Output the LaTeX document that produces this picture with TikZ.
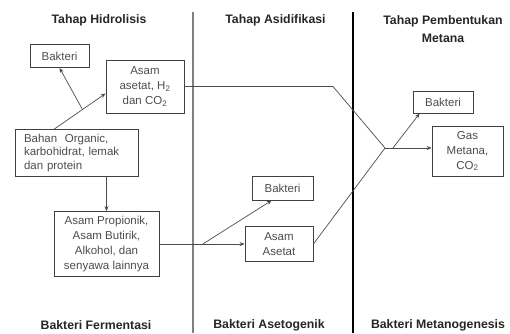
\documentclass[tikz,border=0pt]{standalone}
\usepackage{fontspec}
\setmainfont{Liberation Sans}
\usetikzlibrary{arrows.meta}

\begin{document}
\begin{tikzpicture}[x=1pt, y=-1pt,
    every node/.style={font=\fontsize{11.5}{15}\selectfont},
    box/.style={draw=black!75, line width=0.8pt, text=black!70, align=center, inner sep=2pt},
    headline/.style={font=\fontsize{12.3}{18}\selectfont\bfseries, text=black!85, align=center},
    link/.style={draw=black!70, line width=0.7pt},
    arr/.style={link, -{Stealth[length=5pt, width=4pt]}}]
  \useasboundingbox (0,0) rectangle (510,333);

  % garis pemisah tahap
  \draw[black!50, line width=2pt] (193,12) -- (193,333);
  \draw[black, line width=1.2pt] (353,12) -- (353,333);

  \node[headline] (top1) at (99,20) {Tahap Hidrolisis};
  \node[headline] (top2) at (275.5,20) {Tahap Asidifikasi};
  \node[headline] (top3) at (443,29) {Tahap Pembentukan\\Metana};

  \foreach \x/\t [count=\i] in {96/Bakteri Fermentasi, 269/Bakteri Asetogenik, 438/Bakteri Metanogenesis}
    \node[headline] (bot\i) at (\x,325) {\t};

  \node[box, minimum width=59pt, minimum height=23pt] (bak1) at (59.5,56) {Bakteri};
  \node[box, minimum width=78pt, minimum height=53pt] (asam1) at (145,86.5) {Asam\\asetat, H\textsubscript{2}\\dan CO\textsubscript{2}};
  \node[box, minimum height=47pt, text width=105pt, inner xsep=9pt, align=left, font=\fontsize{11.5}{13.5}\selectfont] (bahan) at (76.5,153) {Bahan\ \ Organic,\\karbohidrat, lemak\\dan protein};
  \node[box, minimum width=105pt, minimum height=65pt] (prop) at (106.5,244) {Asam Propionik,\\Asam Butirik,\\Alkohol, dan\\senyawa lainnya};
  \node[box, minimum width=61pt, minimum height=24pt] (bak2) at (282.5,188) {Bakteri};
  \node[box, minimum width=68pt, minimum height=35pt] (asam2) at (279,244) {Asam\\Asetat};
  \node[box, minimum width=60pt, minimum height=22pt] (bak3) at (443,102) {Bakteri};
  \node[box, minimum width=71pt, minimum height=50pt] (gas) at (467.5,151) {Gas\\Metana,\\CO\textsubscript{2}};

  \coordinate (k1) at (333,86.5);
  \coordinate (m) at (385,148);

  \draw[arr] (bahan.133) -- coordinate[pos=0.55] (b1) (asam1.190);
  \draw[arr] (b1) -- (bak1.south);
  \draw[arr] (bahan.south -| prop.north) -- (prop.north);
  \draw[link] (asam1.east) -- (k1) -- (m);
  \draw[arr] (prop.east) -- coordinate[pos=0.51] (b2) (asam2.west);
  \draw[arr] (b2) -- (bak2.229);
  \draw[link] (asam2.east) -- (m);
  \draw[arr] (m) -- coordinate[pos=0.17] (b3) (m -| gas.west);
  \draw[arr] (b3) -- (bak3.206);
\end{tikzpicture}
\end{document}
